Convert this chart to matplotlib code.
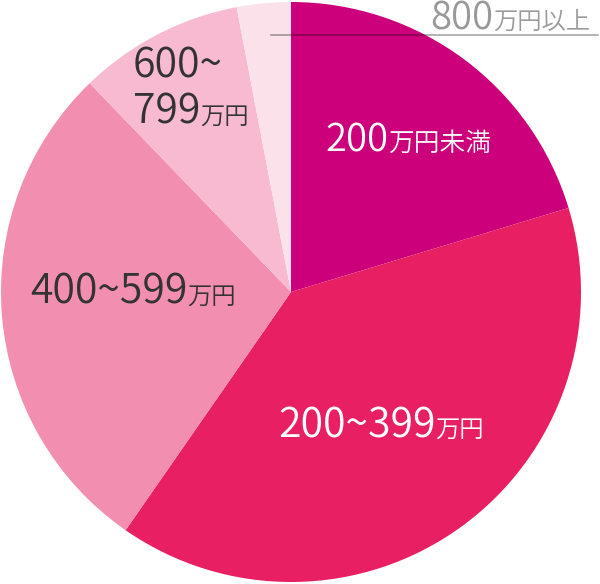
import matplotlib
matplotlib.use("Agg")
import matplotlib.pyplot as plt

plt.rcParams['font.family'] = ['Noto Sans CJK JP', 'DejaVu Sans']

categories = ['200万円未満', '200~399万円', '400~599万円', '600~799万円', '800万円以上']
shares = [20.3, 39.3, 28.1, 9.2, 3.0]
colors = ['#cc007a', '#e91f63', '#f28eb0', '#f7bad0', '#fbe1ea']

W, H = 600, 584
fig = plt.figure(figsize=(W / 100, H / 100), dpi=100)
ax = fig.add_axes([0, 0, 1, 1])

cx, cy, r = 291, 292, 290
ax.pie(shares, colors=colors, startangle=90, counterclock=False,
       center=(cx, H - cy), radius=r, wedgeprops=dict(linewidth=0))
ax.set_xlim(0, W)
ax.set_ylim(0, H)
ax.set_aspect('equal')
ax.axis('off')

renderer = fig.canvas.get_renderer()


def label(x, y, parts, color):
    # parts: list of (text, fontsize); x, y = left / baseline in top-origin pixels
    for s, size in parts:
        t = ax.text(x, H - y, s, fontsize=size, color=color, ha='left', va='baseline',
                    fontweight=350)
        x += t.get_window_extent(renderer).width


big, small = 29.5, 17.5
label(325, 151, [('200', 27.5), ('万円未満', 18.5)], 'white')
label(278, 437, [('200~399', big), ('万円', small)], 'white')
label(30, 304, [('400~599', big), ('万円', small)], '#333333')
label(133, 77, [('600~', big)], '#333333')
label(133, 124, [('799', big), ('万円', small)], '#333333')
label(430, 29, [('800', 27.5), ('万円以上', small)], '#999999')

# leader line for the smallest slice
ax.plot([271, 598], [H - 34.5, H - 34.5], color='black', alpha=0.35, lw=1.2)

fig.savefig('out.png', dpi=100)
